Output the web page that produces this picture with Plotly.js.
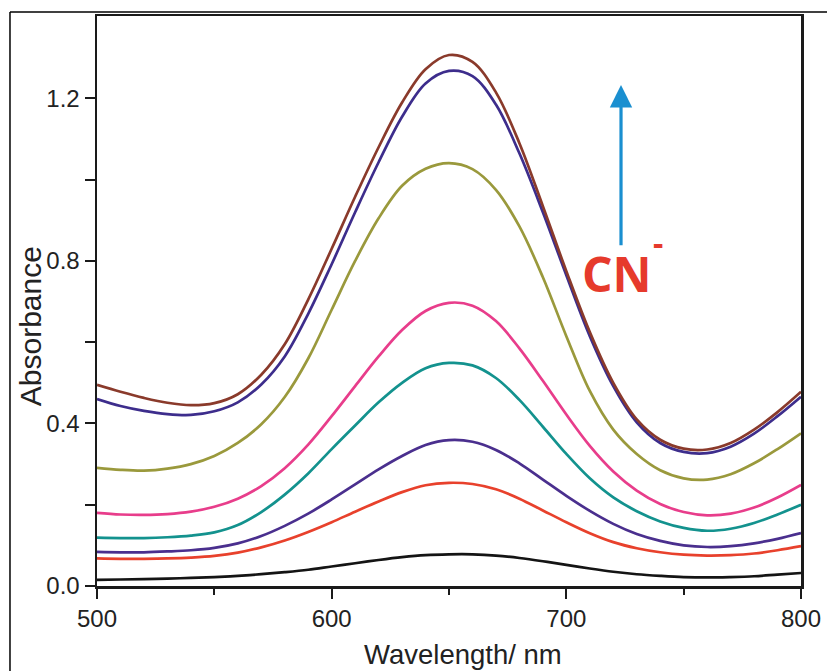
<!DOCTYPE html>
<html>
<head>
<meta charset="utf-8">
<script src="https://cdn.plot.ly/plotly-3.0.1.min.js"></script>
<style>html,body{margin:0;padding:0;background:#fff;}#chart{width:827px;height:671px;}</style>
</head>
<body>
<div id="chart"></div>
<script>
const wavelength = [500,510,520,530,540,550,560,570,580,590,600,610,620,630,640,650,660,670,680,690,700,710,720,730,740,750,760,770,780,790,800];

const absBlack  = [0.015,0.016,0.017,0.018,0.020,0.022,0.025,0.029,0.034,0.040,0.048,0.056,0.064,0.071,0.076,0.078,0.078,0.075,0.069,0.061,0.052,0.043,0.035,0.029,0.025,0.022,0.021,0.022,0.024,0.028,0.032];
const absRed    = [0.068,0.067,0.067,0.068,0.070,0.074,0.082,0.095,0.112,0.133,0.157,0.183,0.208,0.231,0.248,0.254,0.251,0.238,0.215,0.186,0.157,0.130,0.108,0.093,0.083,0.077,0.075,0.076,0.080,0.088,0.098];
const absIndigo = [0.084,0.083,0.083,0.085,0.088,0.094,0.105,0.123,0.148,0.178,0.213,0.250,0.287,0.320,0.347,0.359,0.355,0.335,0.302,0.262,0.222,0.185,0.153,0.128,0.111,0.100,0.096,0.098,0.105,0.116,0.130];
const absTeal   = [0.119,0.118,0.118,0.120,0.124,0.132,0.150,0.182,0.225,0.277,0.337,0.395,0.452,0.500,0.536,0.549,0.543,0.512,0.458,0.392,0.325,0.265,0.218,0.184,0.159,0.143,0.136,0.141,0.155,0.176,0.200];
const absPink   = [0.180,0.176,0.175,0.177,0.183,0.195,0.215,0.246,0.290,0.348,0.418,0.492,0.565,0.630,0.677,0.697,0.690,0.652,0.585,0.505,0.422,0.345,0.282,0.235,0.202,0.182,0.174,0.178,0.193,0.218,0.249];
const absOlive  = [0.291,0.286,0.284,0.289,0.300,0.320,0.352,0.398,0.465,0.560,0.680,0.800,0.905,0.985,1.027,1.041,1.026,0.975,0.885,0.760,0.615,0.480,0.385,0.325,0.285,0.265,0.262,0.275,0.302,0.337,0.376];
const absBlue   = [0.460,0.443,0.431,0.423,0.421,0.430,0.452,0.496,0.565,0.670,0.792,0.920,1.043,1.155,1.237,1.268,1.255,1.185,1.065,0.920,0.765,0.615,0.492,0.403,0.352,0.330,0.327,0.343,0.375,0.418,0.466];
const absBrown  = [0.495,0.478,0.463,0.451,0.445,0.450,0.472,0.520,0.595,0.705,0.830,0.958,1.080,1.190,1.272,1.307,1.290,1.215,1.090,0.935,0.775,0.625,0.500,0.410,0.360,0.338,0.336,0.352,0.385,0.428,0.478];

const seriesList = [
  {y: absBlack,  color: '#141414'},
  {y: absRed,    color: '#e8412c'},
  {y: absIndigo, color: '#4a2f8e'},
  {y: absTeal,   color: '#13928e'},
  {y: absPink,   color: '#e83d8b'},
  {y: absOlive,  color: '#9a993c'},
  {y: absBlue,   color: '#3d2d8c'},
  {y: absBrown,  color: '#8a3a2b'}
];

const traces = seriesList.map(s => ({
  x: wavelength, y: s.y, type: 'scatter', mode: 'lines',
  line: {color: s.color, width: 2.7, shape: 'spline', smoothing: 1},
  hoverinfo: 'skip', showlegend: false
}));

const fontFam = 'Liberation Sans, Arial, sans-serif';

const axisCommon = {
  showline: true, linecolor: '#1a1a1a', linewidth: 2.5, mirror: true,
  showgrid: false, zeroline: false,
  ticks: 'outside', ticklen: 10, tickwidth: 2, tickcolor: '#1a1a1a',
  tickfont: {family: fontFam, size: 24, color: '#222'}
};

const layout = {
  width: 827, height: 671,
  margin: {l: 97, r: 26, t: 16, b: 85},
  paper_bgcolor: '#ffffff', plot_bgcolor: '#ffffff',
  font: {family: fontFam, color: '#222'},
  xaxis: Object.assign({}, axisCommon, {
    range: [500, 800], tickvals: [500, 600, 700, 800], ticktext: ['500','600','700','800'],
    minor: {tickvals: [550, 650, 750], ticklen: 6, tickwidth: 2, tickcolor: '#1a1a1a', ticks: 'outside', showgrid: false}
  }),
  yaxis: Object.assign({}, axisCommon, {
    range: [0, 1.403], tickvals: [0, 0.4, 0.8, 1.2], ticktext: ['0.0','0.4','0.8','1.2'],
    minor: {tickvals: [0.2, 0.6, 1.0], ticklen: 10, tickwidth: 2, tickcolor: '#1a1a1a', ticks: 'outside', showgrid: false}
  }),
  annotations: [
    {x: 0.52, y: -0.121, xref: 'paper', yref: 'paper', xanchor: 'center', yanchor: 'middle',
     text: 'Wavelength/ nm', showarrow: false, font: {family: fontFam, size: 27.5, color: '#222'}},
    {x: -0.095, y: 0.456, xref: 'paper', yref: 'paper', xanchor: 'center', yanchor: 'middle', textangle: -90,
     text: 'Absorbance', showarrow: false, font: {family: fontFam, size: 30, color: '#222'}},
    {x: 723.3, y: 1.233, xref: 'x', yref: 'y', ax: 723.3, ay: 0.835, axref: 'x', ayref: 'y',
     text: '', showarrow: true, arrowhead: 2, arrowsize: 1.4, arrowwidth: 3.2, arrowcolor: '#1a8fd0'},
    {x: 721.6, y: 0.770, xref: 'x', yref: 'y', text: '<b>CN</b>', showarrow: false,
     font: {family: 'Open Sans, sans-serif', size: 48, color: '#e63a2c'}},
    {x: 739.0, y: 0.846, xref: 'x', yref: 'y', text: '<b>-</b>', showarrow: false,
     font: {family: 'Open Sans, sans-serif', size: 32, color: '#e63a2c'}}
  ],
  shapes: [
    {type: 'line', xref: 'paper', yref: 'paper', x0: -0.1236, x1: 1.04, y0: 1.007, y1: 1.007, line: {color: '#000', width: 1.5}},
    {type: 'line', xref: 'paper', yref: 'paper', x0: -0.1236, x1: -0.1236, y0: 1.007, y1: -0.16, line: {color: '#000', width: 1.5}}
  ]
};

Plotly.newPlot('chart', traces, layout, {displayModeBar: false, staticPlot: true});
</script>
</body>
</html>
